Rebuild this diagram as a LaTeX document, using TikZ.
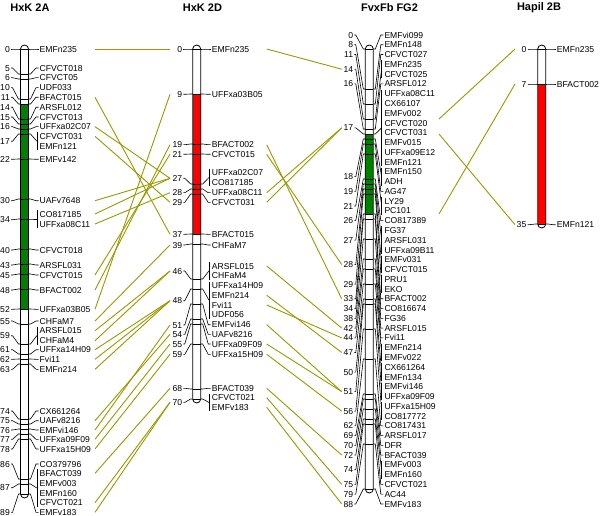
\documentclass[tikz,border=0pt]{standalone}
\usepackage{fontspec}
\setmainfont{Liberation Sans}
\definecolor{olv}{RGB}{153,153,0}
\definecolor{grn}{RGB}{0,128,0}
\begin{document}
\begin{tikzpicture}[x=1pt,y=-1pt,
  lab/.style={font=\fontsize{8.6}{9}\selectfont, inner sep=0pt, text height=6.2pt, text depth=0pt},
  ttl/.style={font=\fontsize{11}{12}\selectfont\bfseries, inner sep=0pt},
  tk/.style={line width=0.6pt, black},
  con/.style={line width=0.9pt, draw=olv},
  barout/.style={line width=0.8pt, black, rounded corners=4pt}]
\useasboundingbox (0,0) rectangle (600,516);
\newcommand\ChrBar[6]{%
  \fill[white, rounded corners=4pt] ({#2-4},45) rectangle ({#2+4},{53+5*#3});
  \fill[#6] ({#2-4},{49+5*#4}) rectangle ({#2+4},{49+5*#5});
  \draw[barout] ({#2-4},45) rectangle ({#2+4},{53+5*#3});
  \coordinate (#1) at (#2,45);}
\newcommand\Tk[2]{\draw[tk] ({#1-4},{49+5*#2}) -- ({#1+4},{49+5*#2});}
\newcommand\Ln[6]{%
  \node[lab,anchor=east] (#1) at (#2,#5) {#6};
  \draw[tk] ({#2+1},#5) -- ({#2+2.5},#5) -- ({#3-2},{49+5*#4}) -- (#3,{49+5*#4});}
\newcommand\Rl[5]{%
  \node[lab,anchor=west] (#1) at ({#2+11},#4) {#5};
  \draw[tk] (#2,{49+5*#3}) -- ({#2+2},{49+5*#3}) -- ({#2+7.5},#4) -- ({#2+10},#4);}
\newcommand\Rg[4]{%
  \draw[tk] (#1,{49+5*#2}) -- ({#1+2},{49+5*#2}) -- ({#1+8.3},{(#3+#4)/2});
  \draw[tk] ({#1+8.3},{#3-4}) -- ({#1+8.3},{#4+4});}
\newcommand\Gl[4]{\node[lab,anchor=west] (#1) at ({#2+11},#3) {#4};}
\newcommand\Lk[5]{%
  \coordinate (#1a) at (#2,#3); \coordinate (#1b) at (#4,#5);
  \draw[con] (#1a) -- (#1b);}

% titles
\node[ttl] (t1) at (30,8) {HxK 2A};
\node[ttl] (t2) at (202.5,8) {HxK 2D};
\node[ttl] (t3) at (389.5,8) {FvxFb FG2};
\node[ttl] (t4) at (539,8) {Hapil 2B};

% ---------- connectors ----------
% HxK 2A -> HxK 2D
\foreach \ya/\yb [count=\i] in {49/49, 97.3/234.3, 126.7/178.3, 136.3/202.3, 200.7/178.3, 214/178.3, 224/192.7,
  275/154.3, 290/144.7, 309.3/94.3, 321/245, 330.7/271, 340.7/271, 349.7/300.7, 359.3/300.7,
  369.3/300.7, 420.7/334.3, 430/325, 439.3/344, 449/354.3, 473.3/388.3, 502.7/402.3, 512.3/402.3}
  {\Lk{ab\i}{95}{\ya}{170}{\yb}}
% HxK 2D -> FvxFb FG2
\foreach \ya/\yb [count=\i] in {49/69.2, 144.7/298.8, 154.3/264.6, 192.7/127.8, 202.3/127.8,
  266/328.1, 295.3/352.5, 305/337.9, 324.7/391.6, 344/391.6, 354.3/411.1, 388.3/455.1,
  397.7/484.4, 407.3/504}
  {\Lk{bc\i}{266.7}{\ya}{341.7}{\yb}}
% FvxFb FG2 -> Hapil 2B
\foreach \ya/\yb [count=\i] in {119/49, 214/84, 134/224.7}
  {\Lk{cd\i}{439}{\ya}{515}{\yb}}

% ---------- HxK 2A ----------
\ChrBar{A}{24.5}{89}{11}{52}{grn}
\foreach \c in {0,5,6,10,11,14,15,16,17,22,30,34,40,43,45,48,52,55,59,61,62,63,74,75,76,77,78,86,87,89}
  {\Tk{24.5}{\c}}
\foreach \c/\y [count=\i] in {0/49,5/68,6/77.7,10/87.7,11/97.3,14/107.3,15/117,16/126.7,17/141.3,
  22/159.3,30/200.7,34/219.7,40/250,43/265,45/275,48/290,52/309.3,55/321,59/335.7,61/349.7,
  62/359.3,63/369.3,74/411,75/420.7,76/430,77/439.3,78/449,86/464,87/487.7,89/512.3}
  {\Ln{an\i}{10}{20.5}{\c}{\y}{\c}}
\foreach \c/\y/\t [count=\i] in {0/49/EMFn235,5/68/CFVCT018,6/77.7/CFVCT05,10/87.7/UDF033,
  11/97.3/BFACT015,14/107.3/ARSFL012,15/117/CFVCT013,16/126.7/UFFxa02C07,22/159.3/EMFv142,
  30/200.7/UAFv7648,40/250/CFVCT018,43/265/ARSFL031,45/275/CFVCT015,48/290/BFACT002,
  52/309.3/UFFxa03B05,55/321/CHFaM7,61/349.7/UFFxa14H09,62/359.3/Fvi11,63/369.3/EMFn214,
  74/411/CX661264,75/420.7/UAFv8216,76/430/EMFvi146,77/439.3/UFFxa09F09,78/449/UFFxa15H09,
  86/464/CO379796,89/512.3/EMFv183}
  {\Rl{al\i}{28.5}{\c}{\y}{\t}}
\Rg{28.5}{17}{136.3}{146}
\Gl{ag1}{28.5}{136.3}{CFVCT031}\Gl{ag2}{28.5}{146}{EMFn121}
\Rg{28.5}{34}{214}{224}
\Gl{ag3}{28.5}{214}{CO817185}\Gl{ag4}{28.5}{224}{UFFxa08C11}
\Rg{28.5}{59}{330.7}{340.7}
\Gl{ag5}{28.5}{330.7}{ARSFL015}\Gl{ag6}{28.5}{340.7}{CHFaM4}
\Rg{28.5}{87}{473.3}{502.7}
\Gl{ag7}{28.5}{473.3}{BFACT039}\Gl{ag8}{28.5}{483.1}{EMFv003}
\Gl{ag9}{28.5}{492.9}{EMFn160}\Gl{ag10}{28.5}{502.7}{CFVCT021}

% ---------- HxK 2D ----------
\ChrBar{B}{196.7}{70}{9}{37}{red}
\foreach \c in {0,9,19,21,27,28,29,37,39,46,48,51,54,55,59,68,70}
  {\Tk{196.7}{\c}}
\foreach \c/\y [count=\i] in {0/49,9/94.3,19/144.7,21/154.3,27/178.3,28/192.7,29/202.3,37/234.3,
  39/245,46/271,48/300.7,51/325,54/334.3,55/344,59/354.3,68/388.3,70/402.3}
  {\Ln{bn\i}{182.3}{192.7}{\c}{\y}{\c}}
\foreach \c/\y/\t [count=\i] in {0/49/EMFn235,9/94.3/UFFxa03B05,19/144.7/BFACT002,
  21/154.3/CFVCT015,28/192.7/UFFxa08C11,29/202.3/CFVCT031,37/234.3/BFACT015,39/245/CHFaM7,
  51/324.7/EMFvi146,54/334.3/UAFv8216,55/344/UFFxa09F09,59/354.3/UFFxa15H09,68/388.3/BFACT039}
  {\Rl{bl\i}{200.7}{\c}{\y}{\t}}
\Rg{200.7}{27}{172.7}{182.3}
\Gl{bg1}{200.7}{172.7}{UFFxa02C07}\Gl{bg2}{200.7}{182.3}{CO817185}
\Rg{200.7}{46}{266}{275.7}
\Gl{bg3}{200.7}{266}{ARSFL015}\Gl{bg4}{200.7}{275.7}{CHFaM4}
\Rg{200.7}{48}{285.7}{314.7}
\Gl{bg5}{200.7}{285.7}{UFFxa14H09}\Gl{bg6}{200.7}{295.3}{EMFn214}
\Gl{bg7}{200.7}{305}{Fvi11}\Gl{bg8}{200.7}{314.7}{UDF056}
\Rg{200.7}{70}{397.7}{407.3}
\Gl{bg9}{200.7}{397.7}{CFVCT021}\Gl{bg10}{200.7}{407.3}{EMFv183}

% ---------- FvxFb FG2 ----------
\ChrBar{C}{369.3}{88}{17}{33}{grn}
\foreach \t [count=\i from 0] in {EMFvi099,EMFn148,CFVCT027,EMFn235,CFVCT025,ARSFL012,
  UFFxa08C11,CX66107,EMFv002,CFVCT020,CFVCT031,EMFv015,UFFxa09E12,EMFn121,EMFn150,ADH,AG47,
  LY29,PC101,CO817389,FG37,ARSFL031,UFFxa09B11,EMFv031,CFVCT015,PRU1,EKO,BFACT002,CO816674,
  FG36,ARSFL015,Fvi11,EMFn214,EMFv022,CX661264,EMFn134,EMFvi146,UFFxa09F09,UFFxa15H09,
  CO817772,CO817431,ARSFL017,DFR,BFACT039,EMFv003,EMFn160,CFVCT021,AC44,EMFv183}
  {\Gl{cl\i}{373.3}{35+9.77*\i}{\t}}
\foreach \c/\a/\b [count=\i] in {0/0/0,8/1/1,11/2/2,14/3/4,16/5/5,17/6/13,18/14/15,19/16/16,
  21/17/18,26/19/19,27/20/22,28/23/24,29/25/26,33/27/27,34/28/28,38/29/29,42/30/30,44/31/31,
  47/32/33,50/34/35,51/36/37,56/38/39,62/40/40,69/41/41,70/42/42,72/43/43,74/44/45,75/46/46,
  79/47/47,88/48/48}
  {\Tk{369.3}{\c}
   \pgfmathsetmacro\ytop{35+9.77*\a}\pgfmathsetmacro\ybot{35+9.77*\b}
   \pgfmathsetmacro\ymid{(\ytop+\ybot)/2}
   \Ln{cn\i}{353.3}{365.3}{\c}{\ymid}{\c}
   \ifnum\a=\b
     \draw[tk] (373.3,{49+5*\c}) -- (375.3,{49+5*\c}) -- (380.8,\ytop) -- (383.3,\ytop);
   \else
     \Rg{373.3}{\c}{\ytop}{\ybot}
   \fi}

% ---------- Hapil 2B ----------
\ChrBar{D}{541.7}{35}{7}{35}{red}
\foreach \c in {0,7,35} {\Tk{541.7}{\c}}
\foreach \c/\y/\t [count=\i] in {0/49/EMFn235,7/84/BFACT002,35/224.7/EMFn121}
  {\Ln{dn\i}{526.5}{537.7}{\c}{\y}{\c}
   \Rl{dl\i}{545.7}{\c}{\y}{\t}}
\end{tikzpicture}
\end{document}
